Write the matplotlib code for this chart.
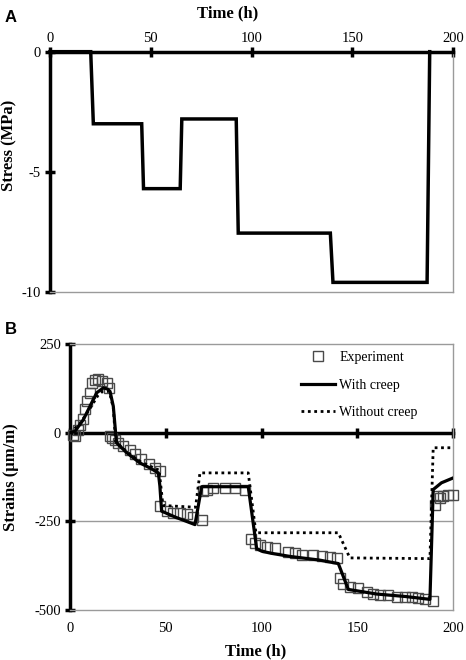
import matplotlib
matplotlib.use("Agg")
import matplotlib.pyplot as plt

# panel A: stress history
stress_t = [0, 20.2, 21.5, 45.5, 46.4, 64.6, 65.4, 92.4, 93.4, 139.1, 140.4, 187.1, 188.4]
stress_v = [0, 0, -3.0, -3.0, -5.7, -5.7, -2.8, -2.8, -7.55, -7.55, -9.6, -9.6, 0]

# panel B: strains
creep_t = [0, 2.6, 7, 10.4, 13.9, 17.4, 19.5, 20.9, 22.6, 23.8, 24.3, 29.6, 36.5, 41.7, 46.1,
           46.9, 47.8, 55, 65.2, 68.7, 93, 97.4, 100, 105, 115, 130, 140, 145.2, 160, 175,
           187.8, 189.5, 193.8, 200]
creep_v = [0, 4.5, 37.5, 75, 113, 127, 124, 117, 75, 0, -28, -56, -85, -99, -113,
           -150, -221, -238, -259, -152, -152, -327, -334, -340, -349, -359, -369, -442, -455, -462,
           -470, -160, -141, -127]

nocreep_t = [0, 5, 10, 14.5, 17, 20.5, 22.6, 23.8, 30, 37, 45, 46.5, 48.5, 65.5, 67.8, 93,
             97, 140, 146, 187.8, 189.5, 200]
nocreep_v = [0, 25, 65, 105, 117, 117, 70, -25, -55, -82, -102, -105, -205, -210, -113, -113,
             -282, -282, -353, -355, -42, -42]

exp_t = [1.7, 2.6, 4.3, 5.2, 7, 7.8, 8.7, 10.4, 11.3, 13, 14.8, 16.5, 19.1, 20.5,
         20.9, 21.7, 23.5, 25.2, 27.8, 31.3, 33.9, 36.9, 41.2, 44.3, 46.9,
         46.9, 50.4, 53.9, 57.4, 60.9, 64.3, 68.7,
         69.6, 71.3, 74.8, 80.9, 86.1, 91.3,
         94.5, 96.5, 99.1, 102.6, 107, 114, 117.4, 120.9, 127, 131.3, 135.7, 139.1,
         140.9, 142.6, 146, 150.4, 154.8, 158.3, 161.7, 166, 170.4, 174.8, 178.3, 181.7, 185.2, 189.2,
         190.4, 191.3, 193, 194.8, 197.4, 200]
exp_v = [-5, -9, 9, 23, 38, 66, 89, 113, 141, 150, 152, 146, 141, 127,
         -9, -14, -19, -28, -38, -47, -61, -75, -89, -99, -108,
         -207, -221, -226, -226, -230, -237, -245,
         -165, -160, -155, -155, -155, -160,
         -300, -311, -316, -321, -325, -337, -340, -344, -346, -349, -351, -354,
         -410, -426, -434, -438, -448, -455, -459, -459, -462, -462, -464, -467, -470, -476,
         -203, -179, -184, -177, -175, -175]

serif = "Liberation Serif"
plt.rcParams["font.family"] = serif
plt.rcParams["axes.unicode_minus"] = False
gray = "#9a9a9a"

fig = plt.figure(figsize=(4.66, 6.6), dpi=100)

# ---- panel A
axA = fig.add_axes([0.1073, 0.5576, 0.865, 0.3641])
axA.plot(stress_t, stress_v, color="black", lw=2.5, solid_joinstyle="miter", clip_on=False)
axA.set_xlim(0, 200)
axA.set_ylim(-10, 0)
axA.set_xticks([0, 50, 100, 150, 200])
axA.set_yticks([0, -5, -10])
axA.xaxis.tick_top()
axA.xaxis.set_label_position("top")
axA.set_xlabel("Time (h)", fontsize=12, fontweight="bold", labelpad=11)
axA.xaxis.label.set_x(0.44)
axA.set_ylabel("Stress (MPa)", fontsize=12, fontweight="bold")
axA.yaxis.set_label_coords(-0.08, 0.61)
for s in ["top", "left"]:
    axA.spines[s].set_linewidth(2.5)
    axA.spines[s].set_color("black")
for s in ["bottom", "right"]:
    axA.spines[s].set_linewidth(1.0)
    axA.spines[s].set_color(gray)
axA.tick_params(axis="both", direction="inout", length=7, width=2.5, labelsize=10.5, pad=3)
axA.tick_params(axis="x", pad=1)
fig.text(0.01, 0.985, "A", fontsize=12, fontweight="bold", family="Liberation Sans", va="top")

# ---- panel B
axB = fig.add_axes([0.1502, 0.0758, 0.8226, 0.4025])
axB.axhline(-250, color=gray, lw=1.0, zorder=1)
axB.plot(exp_t, exp_v, ls="none", marker="s", ms=7, mfc="none", mec="#4a4a4a", mew=1.0,
         label="Experiment", clip_on=False, zorder=3)
axB.plot(creep_t, creep_v, color="black", lw=2.3, label="With creep", zorder=4)
axB.plot(nocreep_t, nocreep_v, color="black", lw=2.0, ls=(0, (1, 1.3)), label="Without creep",
         zorder=4)
axB.set_xlim(0, 200)
axB.set_ylim(-500, 250)
axB.set_xticks([0, 50, 100, 150, 200])
axB.set_yticks([250, 0, -250, -500])
axB.set_xlabel("Time (h)", fontsize=12, fontweight="bold", labelpad=6)
axB.xaxis.label.set_x(0.483)
axB.set_ylabel("Strains (\u00b5m/m)", fontsize=12, fontweight="bold")
axB.yaxis.set_label_coords(-0.132, 0.5)
axB.spines["left"].set_linewidth(2.5)
axB.spines["left"].set_color("black")
for s in ["bottom", "right", "top"]:
    axB.spines[s].set_linewidth(1.0)
    axB.spines[s].set_color(gray)
axB.tick_params(axis="y", direction="inout", length=7, width=2.5, labelsize=10.5, pad=3)
axB.tick_params(axis="x", length=0, labelsize=10.5, pad=9)

# zero line carrying the time ticks
zero = axB.secondary_xaxis(500 / 750)
zero.set_xticks([0, 50, 100, 150, 200])
zero.spines["bottom"].set_linewidth(2.5)
zero.spines["bottom"].set_color("black")
zero.spines["top"].set_linewidth(2.5)
zero.tick_params(direction="inout", length=7, width=2.5, labelbottom=False, labeltop=False)

axB.legend(loc="upper left", bbox_to_anchor=(0.645, 0.468), bbox_transform=fig.transFigure,
           frameon=False, fontsize=10, handlelength=2.5, handletextpad=0.3, labelspacing=1.05,
           borderpad=0, borderaxespad=0)
fig.text(0.01, 0.512, "B", fontsize=12, fontweight="bold", family="Liberation Sans", va="top")

fig.savefig("out.png", dpi=100)
